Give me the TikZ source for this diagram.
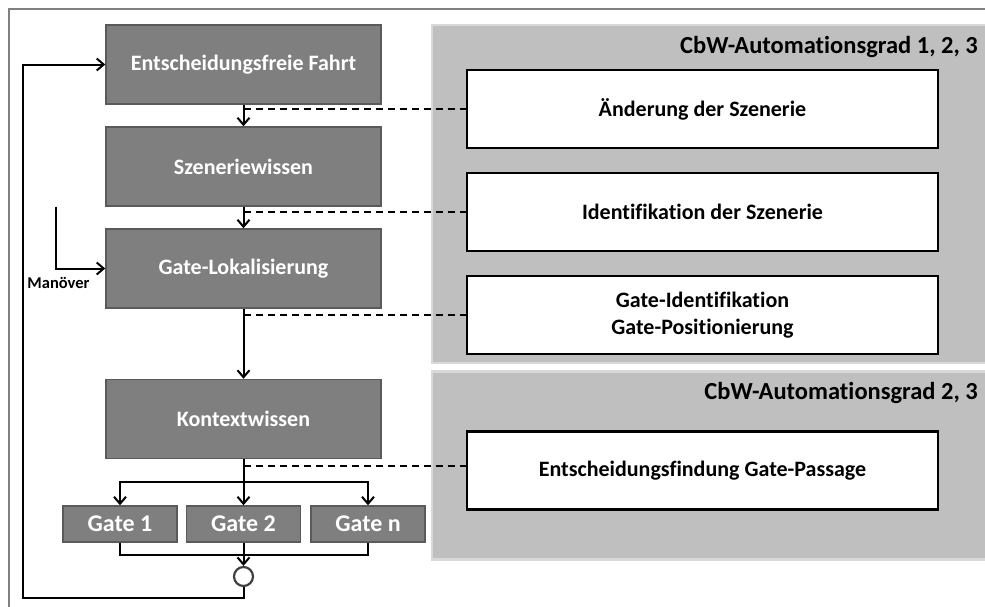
\documentclass[tikz,border=0pt]{standalone}
\usepackage{fontspec}
\setmainfont[Ligatures=NoCommon]{Carlito}
\usetikzlibrary{arrows.meta}
\definecolor{boxgray}{HTML}{7F7F7F}
\definecolor{boxedge}{HTML}{5A5A5A}
\definecolor{panelgray}{HTML}{BFBFBF}
\definecolor{paneledge}{HTML}{D9D9D9}
\definecolor{framegray}{HTML}{808080}
\begin{document}
\begin{tikzpicture}[x=1pt,y=-1pt,
  darkbox/.style={draw=boxedge, fill=boxgray, line width=1.5pt, text=white,
    font=\bfseries\fontsize{22}{26}\selectfont,
    minimum width=275pt, minimum height=79pt, inner sep=0pt},
  gatebox/.style={darkbox, minimum width=114pt, minimum height=36pt,
    font=\bfseries\fontsize{24}{28}\selectfont},
  whitebox/.style={draw=black, fill=white, line width=2.2pt, align=center,
    font=\bfseries\fontsize{22}{27}\selectfont,
    minimum width=471pt, minimum height=78pt, inner sep=0pt},
  panel/.style={draw=paneledge, fill=panelgray, line width=2.5pt},
  paneltitle/.style={anchor=east, inner sep=0pt, font=\bfseries\fontsize{24.5}{28}\selectfont},
  flow/.style={line width=2pt, -{Straight Barb[length=7pt,width=12pt,line width=2pt]}},
  plain/.style={line width=2pt},
  link/.style={line width=2pt, dash pattern=on 7pt off 5pt},
]
\useasboundingbox (0,0) rectangle (985,606);

% outer frame
\draw[framegray, line width=2.2pt] (9,1000) -- (9,9.3) -- (1000,9.3);

% automation-level panels
\draw[panel] (432,25) rectangle (1000,363);
\draw[panel] (432,371.7) rectangle (1000,559.3);
\node[paneltitle] (t1) at (978,46.7) {CbW-Automationsgrad 1, 2, 3};
\node[paneltitle] (t2) at (978,393) {CbW-Automationsgrad 2, 3};

% process chain
\node[darkbox] (e)  at (243.5,64.5)  {Entscheidungsfreie Fahrt};
\node[darkbox] (s)  at (243.5,166.5) {Szeneriewissen};
\node[darkbox] (gl) at (243.5,268.5) {Gate-Lokalisierung};
\node[darkbox] (k)  at (243.5,419)   {Kontextwissen};

\node[gatebox] (g1) at (120,524)   {Gate 1};
\node[gatebox] (g2) at (243.5,524) {Gate 2};
\node[gatebox] (gn) at (368,524)   {Gate n};

\node[draw=black!75, fill=white, line width=2.2pt, circle, minimum size=19pt, inner sep=0pt] (c) at (243.5,576.5) {};

% tasks
\node[whitebox] (w1) at (702.5,109.3) {Änderung der Szenerie};
\node[whitebox] (w2) at (702.5,212.2) {Identifikation der Szenerie};
\node[whitebox] (w3) at (702.5,314.8) {Gate-Identifikation\\Gate-Positionierung};
\node[whitebox] (w4) at (702.5,470.5) {Entscheidungsfindung Gate-Passage};

% main flow
\draw[flow] (e.south) -- (s.north);
\draw[flow] (s.south) -- (gl.north);
\draw[flow] (gl.south) -- (k.north);

% branching into the gates
\coordinate (b) at (243.5,482);
\draw[plain] (k.south) -- (b);
\draw[flow] (b) -| (g1.north);
\draw[flow] (b) -| (gn.north);
\draw[flow] (k.south) -- (g2.north);

% merging the gates
\coordinate (m) at (243.5,555);
\draw[plain] (g1.south) |- (m) -| (gn.south);
\draw[plain] (g2.south) -- (m);
\draw[flow] (m) -- (c.north);

% loop back to the start
\coordinate (lc) at (22.7,598.3);
\draw[flow] (c.south) |- (lc) |- (e.west);

% manoeuvre input
\coordinate (ms) at (55.7,206.7);
\draw[flow] (ms) |- (gl.west);
\node[font=\bfseries\fontsize{16.5}{19}\selectfont, inner sep=0pt] (man) at (58.5,283.3) {Manöver};

% links from the chain to the tasks
\coordinate (d1) at (243.5,109.3);
\coordinate (d2) at (243.5,212.2);
\coordinate (d3) at (243.5,314.8);
\coordinate (d4) at (243.5,466);
\draw[link] (d1) -- (w1.west);
\draw[link] (d2) -- (w2.west);
\draw[link] (d3) -- (w3.west);
\draw[link] (d4) -- (d4 -| w4.west);
\end{tikzpicture}
\end{document}
